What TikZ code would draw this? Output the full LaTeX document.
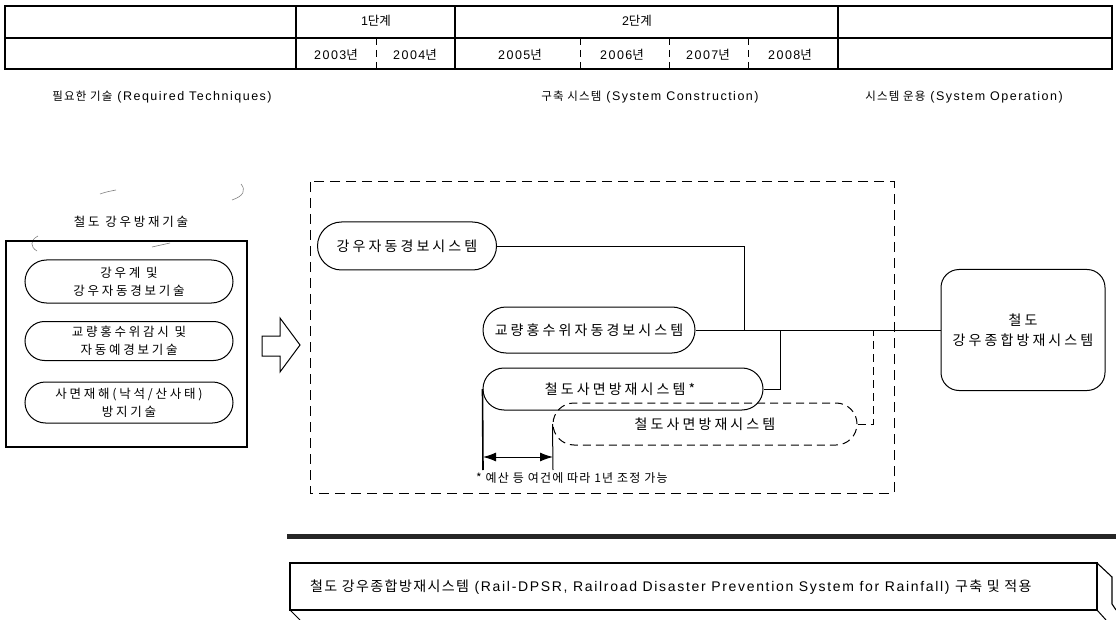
\documentclass[tikz,border=0pt]{standalone}
\usepackage{fontspec}
\setmainfont[LetterSpace=12]{Liberation Sans}
\newfontfamily\kr{Noto Sans CJK KR}
\newfontfamily\krs[LetterSpace=22]{Noto Sans CJK KR}
\newfontfamily\krm[LetterSpace=10]{Noto Sans CJK KR}
\newcommand{\hk}[1]{{\kr #1}}
\usetikzlibrary{shapes.misc,arrows.meta}
\tikzset{
  grid/.style={line width=1.1pt},
  yeardiv/.style={line width=1pt, dash pattern=on 7pt off 5pt},
  cell/.style={font=\fontsize{12.5}{15}\selectfont, inner sep=0pt},
  colhead/.style={font=\fontsize{12.5}{14}\selectfont, inner sep=0pt},
  lpill/.style={draw, line width=1pt, rounded rectangle, minimum width=208pt,
    inner sep=0pt, align=center, font=\krs\fontsize{12.5}{18}\selectfont},
  mpill/.style={draw, line width=1pt, rounded rectangle, inner sep=0pt,
    font=\krs\fontsize{14}{18}\selectfont},
  cloudline/.style={gray, line width=0.6pt},
  conn/.style={line width=0.9pt},
  frame/.style={line width=1pt, dash pattern=on 10pt off 6pt},
}
\newcommand{\hdk}[1]{{\krm\fontsize{11.5}{14}\selectfont #1}}
\begin{document}
\begin{tikzpicture}[x=1pt, y=-1pt]
\useasboundingbox (0,0) rectangle (1116,620);

% ---- timeline table ----
\draw[grid] (5,6) rectangle (1112,69);
\draw[grid] (5,38) -- (1112,38);
\foreach \x in {296,455,838} \draw[grid] (\x,6) -- (\x,69);
\foreach \x in {376,580,669,748} \draw[yeardiv] (\x,38) -- (\x,69);
\node[cell] (ph1) at (376,21) {1{\kr\fontsize{12.5}{15}\selectfont 단계}};
\node[cell] (ph2) at (637,21) {2{\kr\fontsize{12.5}{15}\selectfont 단계}};
\node[cell] (y03) at (336,55) {2003\hk{년}};
\node[cell] (y04) at (415,55) {2004\hk{년}};
\node[cell] (y05) at (520,55) {2005\hk{년}};
\node[cell] (y06) at (622,55) {2006\hk{년}};
\node[cell] (y07) at (708,55) {2007\hk{년}};
\node[cell] (y08) at (790,55) {2008\hk{년}};

% ---- column headings ----
\node[colhead] (hreq) at (162,97) {\hdk{필요한 기술} (Required Techniques)};
\node[colhead] (hcon) at (650,97) {\hdk{구축 시스템} (System Construction)};
\node[colhead] (hope) at (964,97) {\hdk{시스템 운용} (System Operation)};

% ---- required techniques ----
\draw[cloudline] (100,194) .. controls (106,192) .. (116,190);
\draw[cloudline] (232,200) .. controls (244,196) and (246,190) .. (241,184);
\draw[cloudline] (38,236) .. controls (30,240) and (30,247) .. (37,251);
\draw[cloudline] (152,247) -- (170,243);
\node[font=\krs\fontsize{12.5}{16}\selectfont] (cloud) at (131,222) {철도 강우방재기술};

\draw[line width=1.6pt] (6,241) rectangle (247,447);
\node[lpill, minimum height=43pt] (t1) at (129,281.5) {강우계 및\\강우자동경보기술};
\node[lpill, minimum height=39pt] (t2) at (129,341) {교량홍수위감시 및\\자동예경보기술};
\node[lpill, minimum height=41pt] (t3) at (129,402.5) {사면재해(낙석/산사태)\\방지기술};

% hollow arrow
\draw[line width=1pt, line join=miter] (262,336) -- (280,336) -- (280,318) -- (300,345)
  -- (280,372) -- (280,356) -- (262,356) -- cycle;

% ---- system construction ----
\draw[frame] (310,182) rectangle (894,493);
\node[mpill, minimum width=179pt, minimum height=48pt] (sA) at (407,246) {강우자동경보시스템};
\node[mpill, minimum width=212pt, minimum height=46pt] (sB) at (589,330) {교량홍수위자동경보시스템};
\node[mpill, minimum width=280pt, minimum height=42pt] (sC) at (623,389) {\hspace{-6pt}철도사면방재시스템*};
\node[mpill, dashed, dash pattern=on 8pt off 5pt, minimum width=304pt, minimum height=42pt]
  (sD) at (705,424) {철도사면방재시스템};

% ---- system operation ----
\node[draw, line width=1pt, rounded corners=18pt, minimum width=164pt, minimum height=121pt,
  align=center, inner sep=0pt, font=\krs\fontsize{14}{20}\selectfont] (total) at (1023,330)
  {철도\\강우종합방재시스템};

% connectors into the main line
\coordinate (jA) at (744,330);
\coordinate (jC) at (780,330);
\coordinate (jD) at (873,330);
\draw[conn] (sA.east) -| (jA);
\draw[conn] (sB.east) -- (total.west);
\draw[conn] (sC.east) -| (jC);
\draw[conn, dashed, dash pattern=on 8pt off 5pt] (sD.east) -| (jD);

% one-year shift marker
\coordinate (lc) at (483,470);
\coordinate (ld) at (553,470);
\coordinate (al) at (483,457);
\coordinate (ar) at (553,457);
\draw[line width=1.6pt] (sC.west) -- (lc);
\draw[line width=1pt] (sD.west) -- (ld);
\draw[line width=1pt, {Latex[length=13pt,width=9pt]}-{Latex[length=13pt,width=9pt]}] (al) -- (ar);
\node[anchor=west, inner sep=0pt, font=\krm\fontsize{12}{14}\selectfont] (note) at (476,478)
  {* 예산 등 여건에 따라 1년 조정 가능};

% ---- bottom banner ----
\coordinate (barL) at (287,536);
\coordinate (barR) at (1116,536);
\draw[line width=5pt, black!85] (barL) -- (barR);
\draw[line width=1.1pt] (1097,563) -- (1112,577) -- (1112,604) -- (1116,610);
\draw[line width=1pt] (290,610) -- (300,620);
\draw[line width=1pt] (1097,610) -- (1106,620);
\node[draw, line width=1.1pt, minimum width=807pt, minimum height=47pt, inner sep=0pt,
  fill=white] (banner) at (693.5,586.5) {};
\node[anchor=west, inner sep=0pt, font=\fontsize{14}{17}\selectfont] (bannertext) at (310,587)
  {{\krm 철도 강우종합방재시스템} (Rail-DPSR, Railroad Disaster Prevention System for Rainfall) {\krm 구축 및 적용}};
\end{tikzpicture}
\end{document}
